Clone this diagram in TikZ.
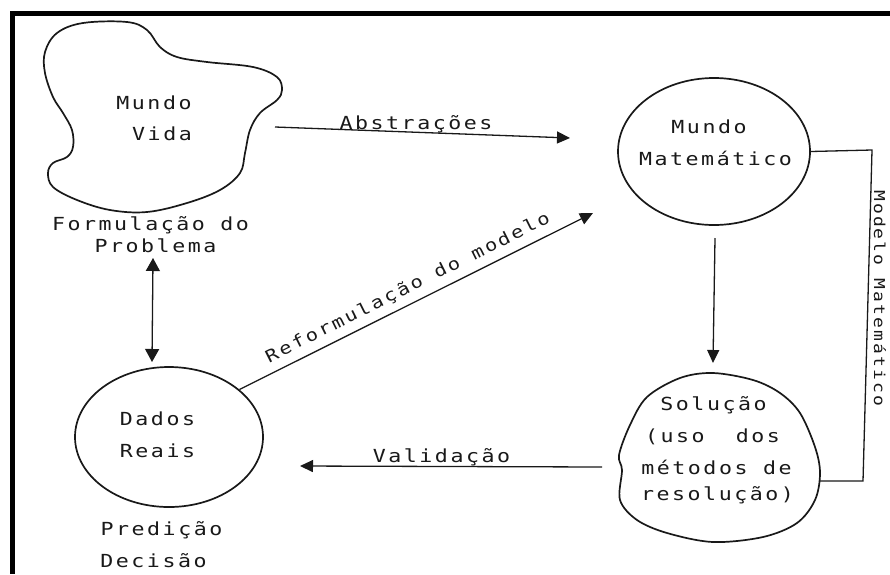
\documentclass[tikz,border=0pt]{standalone}
\usepackage{fontspec}
\newfontfamily\tw{DejaVu Sans Mono}[LetterSpace=14,FakeStretch=1.2]
\usetikzlibrary{arrows.meta,shapes.geometric}
\begin{document}
\begin{tikzpicture}[x=1pt,y=-1pt,
  txt/.style={font=\tw\fontsize{18}{22}\selectfont, text=black!90, inner sep=0pt, anchor=base},
  smalltxt/.style={font=\tw\fontsize{17}{20}\selectfont, text=black!90, inner sep=0pt},
  sidetxt/.style={font=\tw\fontsize{15}{18}\selectfont, text=black!90, inner sep=0pt},
  outl/.style={draw=black!90, line width=1.7pt},
  conn/.style={draw=black!90, line width=1.3pt},
  tip/.style={-{Triangle[length=13pt,width=12pt]}},
  dtip/.style={{Triangle[length=13pt,width=14pt]}-{Triangle[length=13pt,width=14pt]}},
  ell/.style={ellipse, outl, inner sep=0pt}]
\useasboundingbox (0,0) rectangle (890,574);
\fill[white] (0,0) rectangle (890,574);
% frame
\draw[line width=5pt, line join=miter] (890,13) -- (12.5,13) -- (12.5,574);

% Mundo Vida blob
\draw[outl] plot[smooth cycle, tension=0.6] coordinates {(45,52) (57,33) (83,23) (127,22) (147,30) (160,47) (177,57) (207,62) (253,67) (277,77) (282,90) (277,100) (260,113) (250,130) (245,153) (240,173) (220,190) (187,203) (147,212) (110,210) (77,200) (53,187) (48,173) (53,163) (67,157) (73,147) (72,130) (63,113) (53,97) (45,73)};
\node[txt] (mv1) at (154,109) {Mundo};
\node[txt] (mv2) at (162,140) {Vida};
\node[txt] (fp1) at (150.5,230) {Formulação do};
\node[txt] (fp2) at (155.5,252) {Problema};

% Dados Reais
\node[ell, minimum width=188pt, minimum height=140pt] (dados) at (169,437) {};
\node[txt] (dr1) at (157.5,425) {Dados};
\node[txt] (dr2) at (157.5,457) {Reais};
\node[txt] (pd1) at (161.5,535) {Predição};
\node[txt] (pd2) at (153.5,567) {Decisão};

% Mundo Matematico
\node[ell, minimum width=192pt, minimum height=147pt] (mm) at (714,151.5) {};
\node[txt] (mm1) at (709,133) {Mundo};
\node[txt] (mm2) at (715.5,165) {Matemático};

% Solucao blob
\node[ellipse, inner sep=0pt, minimum width=202pt, minimum height=168pt] (sol) at (719,458) {};
\draw[outl] plot[smooth cycle, tension=0.55] coordinates {(713,373) (680,378) (647,397) (630,425) (619,455) (622,470) (620,500) (637,520) (667,533) (713,542) (763,537) (797,523) (815,500) (820,473) (815,447) (800,413) (780,393) (753,380)};
\node[txt] (s1) at (713.5,410) {Solução};
\node[txt] (s2) at (712.5,442) {(uso~~dos};
\node[txt] (s3) at (716.5,474) {métodos de};
\node[txt] (s4) at (717.5,500) {resolução)};

% connectors
\coordinate (abS) at (275,127);
\coordinate (abE) at (570,138);
\draw[conn, tip] (abS) -- (abE);
\node[txt] (abT) at (416,129) {Abstrações};

\coordinate (reE) at (593,213);
\draw[conn, tip] (dados.34) -- (reE);
\node[smalltxt, rotate=26.6, anchor=center] (reT) at (408,288) {Reformulação do modelo};

\coordinate (vaS) at (602,467);
\coordinate (vaE) at (300,466);
\draw[conn, tip] (vaS) -- (vaE);
\node[txt] (vaT) at (441.5,462) {Validação};

\coordinate (dbS) at (152,362);
\coordinate (dbE) at (153,258);
\draw[conn, dtip] (dbS) -- (dbE);

\coordinate (msS) at (715,238);
\coordinate (msE) at (713,363);
\draw[conn, tip] (msS) -- (msE);

\coordinate (br1) at (872,150);
\coordinate (br2) at (863,481);
\coordinate (br3) at (820,481);
\draw[conn] (mm.east) -- (br1) -- (br2) -- (br3);
\node[sidetxt, rotate=-90, anchor=center] (mmT) at (880,298) {Modelo Matemático};
\end{tikzpicture}
\end{document}
